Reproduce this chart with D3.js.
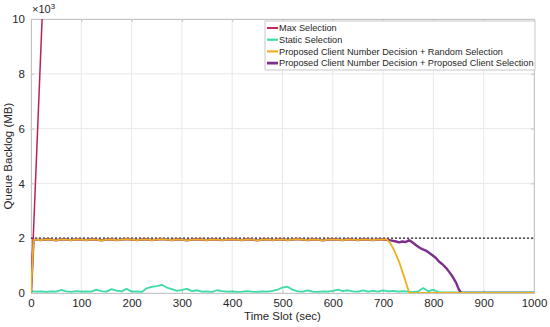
<!DOCTYPE html>
<html>
<head>
<meta charset="utf-8">
<script src="https://cdn.jsdelivr.net/npm/d3@7"></script>
<style>
  body { margin: 0; background: #fff; }
  svg { display: block; font-family: "Liberation Sans", Arial, sans-serif; }
  .grid line { stroke: #e8e8e8; stroke-width: 1; }
  .axis text { font-size: 11.5px; fill: #262626; }
  .axis path, .axis line { stroke: #c4c4c4; }
</style>
</head>
<body>
<svg id="chart" width="550" height="327"></svg>
<script>
// values are in units of 10^3 MB
const seriesNames = [
  'Max Selection',
  'Static Selection',
  'Proposed Client Number Decision + Random Selection',
  'Proposed Client Number Decision + Proposed Client Selection'
];
const seriesColors = ['#bd1f5c', '#3ddba5', '#edb120', '#7e2f8e'];

const xTicks = [0, 100, 200, 300, 400, 500, 600, 700, 800, 900, 1000];
const yTicks = [0, 2, 4, 6, 8, 10];
const capacity = 2;

// Max selection grows without bound
const maxTimes = [0, 30];
const maxValues = [0, 13.6];

// Static selection, sampled every 10 s
const staticTimes = d3.range(0, 1001, 10);
const staticValues = [
  0.07, 0.05, 0.06, 0.04, 0.06, 0.05, 0.11, 0.06, 0.04, 0.07,
  0.05, 0.06, 0.05, 0.12, 0.07, 0.05, 0.14, 0.09, 0.06, 0.15,
  0.05, 0.06, 0.04, 0.17, 0.22, 0.25, 0.30, 0.20, 0.14, 0.08,
  0.11, 0.15, 0.07, 0.10, 0.05, 0.06, 0.04, 0.10, 0.07, 0.05,
  0.06, 0.04, 0.05, 0.07, 0.05, 0.04, 0.06, 0.05, 0.08, 0.12,
  0.20, 0.23, 0.12, 0.06, 0.05, 0.10, 0.05, 0.04, 0.06, 0.05,
  0.08, 0.12, 0.07, 0.10, 0.06, 0.05, 0.10, 0.05, 0.08, 0.05,
  0.10, 0.06, 0.08, 0.05, 0.07, 0.05, 0.04, 0.06, 0.18, 0.06,
  0.12, 0.03, 0.02, 0.02, 0.02, 0.02, 0.02, 0.02, 0.02, 0.02,
  0.02, 0.02, 0.02, 0.02, 0.02, 0.02, 0.02, 0.02, 0.02, 0.02,
  0.02
];

// shared plateau of both proposed schemes, t = 0, 5, 10 ... 700
const plateauTimes = [0, 5].concat(d3.range(10, 701, 10));
const plateauValues = [
  0, 1.93,
  1.95, 1.93, 1.96, 1.95, 1.92, 1.96, 1.95, 1.93, 1.96, 1.95,
  1.93, 1.96, 1.95, 1.92, 1.95, 1.96, 1.93, 1.95, 1.97, 1.95,
  1.93, 1.95, 1.96, 1.93, 1.95, 1.97, 1.95, 1.93, 1.96, 1.95,
  1.92, 1.95, 1.96, 1.95, 1.93, 1.96, 1.95, 1.93, 1.95, 1.96,
  1.95, 1.93, 1.96, 1.95, 1.92, 1.95, 1.96, 1.93, 1.95, 1.96,
  1.93, 1.95, 1.97, 1.95, 1.93, 1.96, 1.95, 1.92, 1.95, 1.96,
  1.95, 1.93, 1.96, 1.95, 1.93, 1.96, 1.95, 1.93, 1.96, 1.95
];

// draining phase of random selection
const randomTailTimes = [708, 715, 722, 732, 742, 752, 1000];
const randomTailValues = [1.95, 1.80, 1.56, 1.13, 0.58, 0, 0];

// draining phase of proposed selection
const proposedTailTimes = [712, 720, 726, 732, 738, 745, 752, 758, 765, 772, 778, 785,
  792, 798, 805, 811, 818, 825, 831, 838, 845, 850, 855, 1000];
const proposedTailValues = [1.93, 1.90, 1.88, 1.85, 1.88, 1.86, 1.93, 1.85, 1.75, 1.66, 1.60, 1.55,
  1.46, 1.38, 1.28, 1.15, 1.05, 0.92, 0.78, 0.60, 0.38, 0.15, 0, 0];

const zip = (ts, vs) => ts.map((t, i) => ({t: t, v: vs[i]}));

const series = [
  {name: seriesNames[0], color: seriesColors[0], width: 1.5, data: zip(maxTimes, maxValues)},
  {name: seriesNames[1], color: seriesColors[1], width: 1.8, data: zip(staticTimes, staticValues)},
  {name: seriesNames[2], color: seriesColors[2], width: 1.8,
    data: zip(plateauTimes.concat(randomTailTimes), plateauValues.concat(randomTailValues))},
  {name: seriesNames[3], color: seriesColors[3], width: 2.4,
    data: zip(plateauTimes.concat(proposedTailTimes), plateauValues.concat(proposedTailValues))}
];

const margin = {top: 19, right: 16, bottom: 34, left: 31};
const width = 550 - margin.left - margin.right;
const height = 327 - margin.top - margin.bottom;

const svg = d3.select('#chart');
const chart = svg.append('g')
  .attr('transform', `translate(${margin.left}, ${margin.top})`);

const x = d3.scaleLinear().domain([0, 1000]).range([0, width]);
const y = d3.scaleLinear().domain([0, 10]).range([height, 0]);

// grid
chart.append('g').attr('class', 'grid')
  .selectAll('line.v').data(xTicks).join('line')
  .attr('x1', d => x(d)).attr('x2', d => x(d))
  .attr('y1', 0).attr('y2', height);
chart.append('g').attr('class', 'grid')
  .selectAll('line.h').data(yTicks).join('line')
  .attr('x1', 0).attr('x2', width)
  .attr('y1', d => y(d)).attr('y2', d => y(d));

// axes
const xAxis = d3.axisBottom(x).tickValues(xTicks).tickFormat(d3.format('d')).tickSize(-3).tickPadding(6);
const yAxis = d3.axisLeft(y).tickValues(yTicks).tickFormat(d3.format('d')).tickSize(-3).tickPadding(6);

chart.append('g')
  .attr('class', 'x axis')
  .attr('transform', `translate(0, ${height})`)
  .call(xAxis);
chart.append('g')
  .attr('class', 'y axis')
  .call(yAxis);
chart.append('g')
  .attr('class', 'axis')
  .call(d3.axisTop(x).tickValues(xTicks).tickSize(-3).tickFormat(''));
chart.append('g')
  .attr('class', 'axis')
  .attr('transform', `translate(${width}, 0)`)
  .call(d3.axisRight(y).tickValues(yTicks).tickSize(-3).tickFormat(''));

chart.append('clipPath')
    .attr('id', 'clip')
  .append('rect')
    .attr('x', 0).attr('y', 0)
    .attr('width', width).attr('height', height);

const line = d3.line()
  .x(d => x(d.t))
  .y(d => y(d.v));

const lines = chart.append('g').attr('clip-path', 'url(#clip)');

// capacity line
lines.append('line')
  .attr('x1', x(0)).attr('x2', x(1000))
  .attr('y1', y(capacity)).attr('y2', y(capacity))
  .attr('stroke', '#222').attr('stroke-width', 1.2)
  .attr('stroke-dasharray', '2,2');

// draw order: purple under orange
[0, 1, 3, 2].forEach(i => {
  lines.append('path')
    .datum(series[i].data)
    .attr('fill', 'none')
    .attr('stroke', series[i].color)
    .attr('stroke-width', series[i].width)
    .attr('stroke-linejoin', 'round')
    .attr('d', line);
});

// exponent label
const expo = svg.append('text')
  .attr('x', margin.left + 1).attr('y', 13)
  .attr('font-size', 11).attr('fill', '#262626');
expo.append('tspan').text('\u00d710');
expo.append('tspan').attr('font-size', 8).attr('dy', -4).text('3');

// axis labels
svg.append('text')
  .attr('x', margin.left + width / 2).attr('y', 320)
  .attr('text-anchor', 'middle').attr('font-size', 11.5).attr('fill', '#262626')
  .text('Time Slot (sec)');
svg.append('text')
  .attr('transform', `translate(12, ${margin.top + height / 2}) rotate(-90)`)
  .attr('text-anchor', 'middle').attr('font-size', 11.5).attr('fill', '#262626')
  .text('Queue Backlog (MB)');

// legend
const legend = svg.append('g').attr('transform', 'translate(265, 21)');
legend.append('rect')
  .attr('width', 270).attr('height', 49)
  .attr('fill', '#fff').attr('stroke', '#c8c8c8');
series.forEach((s, i) => {
  const row = legend.append('g').attr('transform', `translate(0, ${7 + i * 11.7})`);
  row.append('line')
    .attr('x1', 2).attr('x2', 13)
    .attr('stroke', s.color).attr('stroke-width', s.width + 0.4);
  row.append('text')
    .attr('x', 14).attr('dy', '0.35em')
    .attr('font-size', 9.2).attr('fill', '#262626')
    .text(s.name);
});
</script>
</body>
</html>
